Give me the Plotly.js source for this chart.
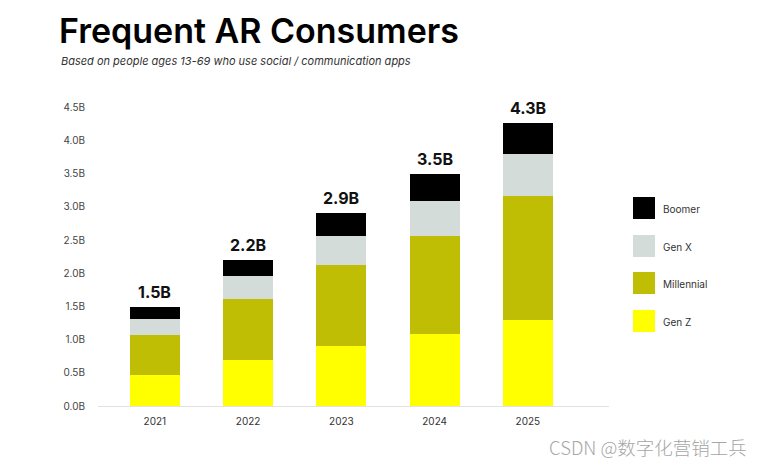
<!DOCTYPE html>
<html>
<head>
<meta charset="utf-8">
<script src="https://cdn.plot.ly/plotly-3.0.1.min.js"></script>
<style>
  html, body { margin: 0; padding: 0; background: #fff; }
  #chart { width: 768px; height: 465px; }
</style>
</head>
<body>
<div id="chart"></div>
<script>
// ---- Data ----
const years = ['2021', '2022', '2023', '2024', '2025'];
const genZ = [0.47, 0.69, 0.90, 1.08, 1.30];
const millennial = [0.60, 0.92, 1.22, 1.48, 1.86];
const genX = [0.24, 0.35, 0.44, 0.53, 0.63];
const boomer = [0.18, 0.24, 0.34, 0.40, 0.47];
const totalLabels = ['1.5B', '2.2B', '2.9B', '3.5B', '4.3B'];
const seriesNames = ['Gen Z', 'Millennial', 'Gen X', 'Boomer'];
const yTickVals = [0, 0.5, 1.0, 1.5, 2.0, 2.5, 3.0, 3.5, 4.0, 4.5];
const yTickText = ['0.0B', '0.5B', '1.0B', '1.5B', '2.0B', '2.5B', '3.0B', '3.5B', '4.0B', '4.5B'];
const titleText = 'Frequent AR Consumers';
const subtitleText = 'Based on people ages 13-69 who use social / communication apps';
const watermarkText = 'CSDN @数字化营销工兵';

// ---- Style ----
const colors = ['#ffff00', '#bfbe05', '#d3dcd9', '#000000'];
const W = 768, H = 465;
const M = { l: 98, r: 159, t: 100, b: 59 };
const plotW = W - M.l - M.r, plotH = H - M.t - M.b;
const pxPerUnit = 66.4;
const px2paperX = px => (px - M.l) / plotW;
const px2paperY = py => (H - M.b - py) / plotH;

const seriesValues = [genZ, millennial, genX, boomer];
const traces = seriesValues.map((vals, i) => ({
  type: 'bar',
  x: years,
  y: vals,
  name: seriesNames[i],
  marker: { color: colors[i], line: { width: 0 } },
  hoverinfo: 'none',
  showlegend: false
}));

const totals = years.map((_, j) => seriesValues.reduce((s, arr) => s + arr[j], 0));

const annotations = [];
years.forEach((yr, j) => {
  annotations.push({
    x: j, y: totals[j], xref: 'x', yref: 'y',
    text: totalLabels[j],
    showarrow: false, xanchor: 'center', yanchor: 'bottom', yshift: 3,
    font: { family: 'Inter, Roboto, sans-serif', size: 16, weight: 700, color: '#111' }
  });
});

// Subtitle
annotations.push({
  xref: 'paper', yref: 'paper',
  x: px2paperX(59), y: px2paperY(61),
  xanchor: 'left', yanchor: 'middle',
  text: subtitleText,
  showarrow: false,
  font: { family: 'Inter, Roboto, sans-serif', size: 11, style: 'italic', color: '#333' }
});

// Custom legend (top to bottom: Boomer, Gen X, Millennial, Gen Z)
const legendCentersY = [208, 246, 283, 321];
const shapes = [];
for (let k = 0; k < 4; k++) {
  const i = 3 - k;
  const cy = legendCentersY[k];
  shapes.push({
    type: 'rect', xref: 'paper', yref: 'paper',
    x0: px2paperX(633), x1: px2paperX(655),
    y0: px2paperY(cy + 11), y1: px2paperY(cy - 11),
    fillcolor: colors[i], line: { width: 0 }
  });
  annotations.push({
    xref: 'paper', yref: 'paper',
    x: px2paperX(661), y: px2paperY(cy + 1),
    xanchor: 'left', yanchor: 'middle',
    text: seriesNames[i], showarrow: false,
    font: { family: 'Inter, Roboto, sans-serif', size: 10, color: '#333' }
  });
}

// Watermark
annotations.push({
  xref: 'paper', yref: 'paper',
  x: px2paperX(648), y: px2paperY(447),
  xanchor: 'center', yanchor: 'middle',
  text: watermarkText, showarrow: false,
  font: { family: '"Noto Sans CJK SC", "Liberation Sans", sans-serif', size: 18.5, weight: 300, color: '#a6a6a6' }
});

const layout = {
  width: W, height: H,
  margin: M,
  paper_bgcolor: '#fff', plot_bgcolor: '#fff',
  barmode: 'stack',
  bargap: 0.464,
  showlegend: false,
  title: {
    text: titleText,
    xref: 'container', yref: 'container',
    x: 59 / W, xanchor: 'left',
    y: 1 - 31 / H, yanchor: 'middle',
    font: { family: 'Inter, Roboto, sans-serif', size: 34, weight: 600, color: '#000' }
  },
  xaxis: {
    type: 'category',
    range: [-0.61, 4.87],
    showgrid: false, zeroline: false,
    showline: true, linecolor: '#e2e2e2', linewidth: 1,
    ticks: '', ticklabelstandoff: 6,
    tickfont: { family: 'Inter, Roboto, sans-serif', size: 10, color: '#333' },
    fixedrange: true
  },
  yaxis: {
    range: [0, plotH / pxPerUnit],
    showgrid: false, zeroline: false, showline: false,
    tickvals: yTickVals, ticktext: yTickText,
    ticks: '', ticklabelstandoff: 12,
    tickfont: { family: 'Inter, Roboto, sans-serif', size: 10, color: '#444' },
    fixedrange: true
  },
  shapes: shapes,
  annotations: annotations
};

Plotly.newPlot('chart', traces, layout, { displayModeBar: false, staticPlot: true });
</script>
</body>
</html>
